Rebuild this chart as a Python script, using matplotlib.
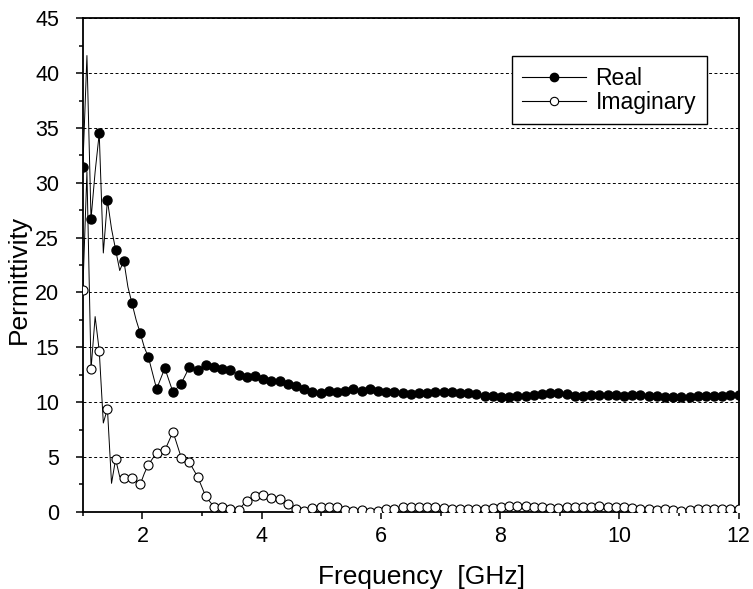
import numpy as np
import matplotlib
matplotlib.use("Agg")
import matplotlib.pyplot as plt
from matplotlib.lines import Line2D
from matplotlib.ticker import MultipleLocator

plt.rcParams['font.family'] = ['Liberation Sans', 'DejaVu Sans']

# measurement grid (81 points, 1-12 GHz)
freq = np.linspace(1.0, 12.0, 81)

real = [31.4, 26.7, 34.5, 28.4, 23.9, 22.9, 19.0, 16.3, 14.1, 11.2,
        13.1, 10.9, 11.7, 13.2, 12.9, 13.4, 13.2, 13.0, 12.9, 12.5,
        12.3, 12.4, 12.1, 11.9, 11.96, 11.7, 11.5, 11.2, 10.9, 10.8,
        11.05, 10.9, 11.05, 11.2, 11.05, 11.2, 11.05, 10.9, 10.9, 10.8,
        10.7, 10.8, 10.8, 10.9, 10.9, 10.9, 10.8, 10.8, 10.7, 10.6,
        10.55, 10.5, 10.45, 10.56, 10.56, 10.65, 10.7, 10.8, 10.8, 10.7,
        10.6, 10.6, 10.65, 10.65, 10.65, 10.65, 10.6, 10.65, 10.65, 10.6,
        10.55, 10.5, 10.45, 10.5, 10.5, 10.55, 10.55, 10.6, 10.6, 10.65,
        10.65]

imag = [20.2, 13.0, 14.7, 9.4, 4.8, 3.1, 3.1, 2.5, 4.3, 5.4,
        5.6, 7.3, 4.95, 4.5, 3.2, 1.4, 0.45, 0.4, 0.3, 0.2,
        1.0, 1.45, 1.55, 1.25, 1.15, 0.73, 0.3, 0.06, 0.33, 0.48,
        0.42, 0.42, 0.18, 0.12, 0.18, 0.03, 0.12, 0.24, 0.3, 0.42,
        0.48, 0.48, 0.48, 0.48, 0.33, 0.27, 0.24, 0.24, 0.3, 0.3,
        0.33, 0.48, 0.55, 0.55, 0.55, 0.48, 0.42, 0.33, 0.33, 0.42,
        0.48, 0.48, 0.48, 0.55, 0.48, 0.42, 0.42, 0.33, 0.3, 0.24,
        0.18, 0.24, 0.18, 0.12, 0.18, 0.24, 0.24, 0.24, 0.24, 0.3,
        0.24]

# in-between samples of the noisy low-frequency part (line only, no symbol)
real_mid = [41.6, 31.0, 23.6, 25.8, 22.0, 20.5, 17.5, 15.0]
imag_mid = [31.0, 17.8, 8.1, 2.6, 3.2, 3.0, 2.8, 3.5]

mid_f = (freq[:-1] + freq[1:])[:len(real_mid)] / 2.0


def merged(vals, mids):
    x = np.concatenate([freq, mid_f])
    y = np.concatenate([vals, mids])
    order = np.argsort(x)
    return x[order], y[order]


fig = plt.figure(figsize=(7.53, 5.89), dpi=100)
ax = fig.add_axes([0.110, 0.131, 0.871, 0.838])

rx, ry = merged(real, real_mid)
ix, iy = merged(imag, imag_mid)
ax.plot(rx, ry, color='k', lw=0.7, zorder=2)
ax.plot(ix, iy, color='k', lw=0.7, zorder=2)
ax.plot(freq, real, ls='none', marker='o', ms=6.5, mfc='k', mec='k', zorder=3)
ax.plot(freq, imag, ls='none', marker='o', ms=6.5, mfc='white', mec='k',
        mew=0.8, zorder=3)

ax.set_xlim(1, 12)
ax.set_ylim(0, 45)
ax.xaxis.set_major_locator(MultipleLocator(2))
ax.xaxis.set_minor_locator(MultipleLocator(1))
ax.yaxis.set_major_locator(MultipleLocator(5))
ax.yaxis.set_minor_locator(MultipleLocator(2.5))
ax.tick_params(which='major', direction='out', length=5, width=1.1,
               labelsize=15.5)
ax.tick_params(axis='y', which='major', pad=12)
ax.tick_params(axis='x', which='major', pad=5)
ax.tick_params(which='minor', direction='out', length=3, width=1.1)
for s in ax.spines.values():
    s.set_linewidth(1.3)

ax.yaxis.grid(True, which='major', color='k', ls=(0, (3, 2.5)), lw=0.7)
ax.set_axisbelow(True)

ax.set_xlabel('Frequency  [GHz]', fontsize=19, labelpad=13)
ax.set_ylabel('Permittivity', fontsize=19, labelpad=3)
ax.xaxis.label.set_x(0.516)
ax.yaxis.label.set_y(0.47)

handles = [
    Line2D([], [], color='k', lw=0.8, marker='o', ms=6, mfc='k', mec='k'),
    Line2D([], [], color='k', lw=0.8, marker='o', ms=6, mfc='white', mec='k',
           mew=0.8),
]
leg = ax.legend(handles, ['Real', 'Imaginary'], loc='upper right',
                bbox_to_anchor=(0.951, 0.923), borderaxespad=0,
                fontsize=16.5, handlelength=2.8,
                fancybox=False, framealpha=1, edgecolor='k',
                borderpad=0.45, labelspacing=0.05, handletextpad=0.4)
leg.get_frame().set_linewidth(1.0)

fig.savefig('out.png', dpi=100)
